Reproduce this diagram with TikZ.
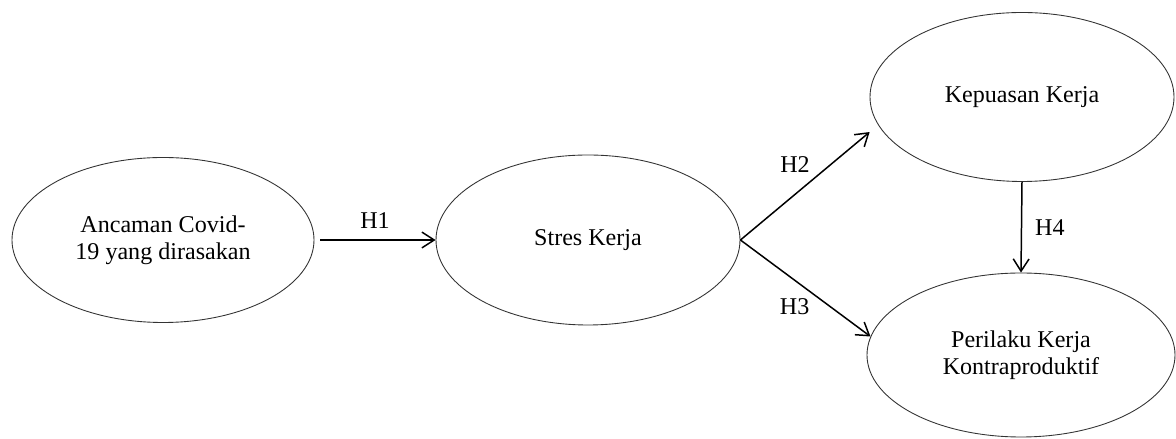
\documentclass[tikz,border=0pt]{standalone}
\usepackage{fontspec}
\setmainfont{Liberation Serif}
\usetikzlibrary{shapes.geometric, arrows.meta, positioning}

\begin{document}
\begin{tikzpicture}[>={Straight Barb[length=7pt,width=9pt]},
  var/.style={ellipse, draw=black!80, line width=0.5pt, inner sep=0pt,
    align=center, font=\fontsize{13.7}{15.5}\selectfont},
  hyp/.style={->, line width=0.85pt},
  lbl/.style={font=\fontsize{13.7}{15.5}\selectfont}]
\useasboundingbox (0,0) rectangle (23.52,8.78);
\node[var, minimum width=6.04cm, minimum height=3.3cm] (ancaman) at (3.26,3.98) {Ancaman Covid-\\19 yang dirasakan};
\node[var, minimum width=6.08cm, minimum height=3.4cm] (stres) at (11.76,3.98) {Stres Kerja};
\node[var, minimum width=6.08cm, minimum height=3.38cm] (kepuasan) at (20.44,6.84) {Kepuasan Kerja};
\node[var, minimum width=6.16cm, minimum height=3.28cm] (perilaku) at (20.42,1.68) {Perilaku Kerja\\Kontraproduktif};
\draw[hyp, shorten <=0.12cm] (ancaman.east) -- (stres.west) node[lbl, midway, above=3pt] {H1};
\draw[hyp, shorten >=0.22cm] (stres.east) -- (kepuasan.191) node[lbl, midway, above left=2pt and -4pt] {H2};
\draw[hyp] (stres.east) -- (perilaku.173) node[lbl, midway, below left=2pt and -6pt] {H3};
\draw[hyp] (kepuasan.south) -- (perilaku.north) node[lbl, midway, right=4pt] {H4};
\end{tikzpicture}
\end{document}
